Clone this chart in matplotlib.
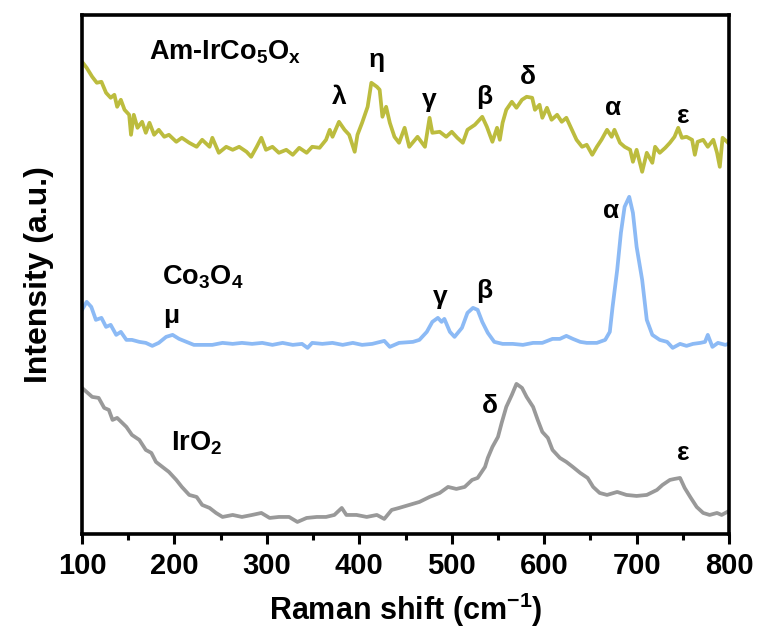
import matplotlib
matplotlib.use("Agg")
import matplotlib.pyplot as plt
from matplotlib.ticker import MultipleLocator

plt.rcParams['font.family'] = ['Liberation Sans', 'DejaVu Sans']
plt.rcParams['font.weight'] = 'bold'
plt.rcParams['mathtext.fontset'] = 'custom'
plt.rcParams['mathtext.rm'] = 'Liberation Sans:bold'
plt.rcParams['mathtext.bf'] = 'Liberation Sans:bold'
plt.rcParams['mathtext.default'] = 'bf'

# Am-IrCo5Ox (top, with offset)
x_am = [100, 105, 111, 116, 121, 126, 131, 135, 138, 142, 146, 151, 153, 156, 160, 165, 169, 173,
        178, 183, 189, 194, 202, 208, 216, 224, 230, 238, 241, 248, 256, 263, 270, 278, 283, 289,
        294, 299, 306, 313, 321, 328, 335, 343, 349, 357, 364, 368, 371, 378, 384, 389, 395, 398,
        403, 409, 413, 419, 422, 425, 429, 433, 438, 443, 449, 454, 463, 471, 476, 479, 487, 494,
        500, 506, 512, 517, 525, 533, 538, 544, 549, 552, 555, 559, 565, 570, 576, 581, 587, 590,
        595, 598, 603, 608, 614, 619, 624, 630, 635, 641, 646, 652, 657, 662, 668, 673, 676, 682,
        687, 693, 696, 700, 706, 711, 717, 720, 725, 731, 736, 741, 745, 749, 754, 760, 763, 766,
        772, 777, 783, 787, 790, 793, 799]
y_am = [472, 466, 457, 451, 452, 441, 436, 439, 427, 434, 424, 419, 399, 419, 406, 412, 401, 411,
        399, 404, 397, 399, 392, 396, 391, 387, 394, 387, 396, 381, 387, 384, 387, 382, 377, 387,
        396, 384, 387, 381, 384, 379, 386, 381, 387, 386, 394, 404, 397, 412, 404, 399, 382, 399,
        411, 427, 451, 447, 444, 417, 427, 411, 397, 391, 406, 387, 397, 387, 416, 401, 402, 397,
        402, 396, 391, 404, 409, 417, 407, 392, 406, 394, 411, 424, 432, 426, 434, 437, 436, 424,
        429, 416, 426, 414, 419, 412, 416, 404, 394, 387, 389, 379, 387, 394, 404, 397, 404, 391,
        387, 384, 372, 384, 362, 381, 371, 387, 381, 386, 391, 397, 406, 396, 397, 394, 379, 392,
        394, 387, 394, 381, 367, 396, 391]

# Co3O4 (middle)
x_co = [100, 105, 110, 115, 121, 126, 131, 137, 142, 148, 154, 162, 169, 176, 183, 191, 198, 205,
        213, 221, 230, 241, 252, 263, 273, 284, 295, 306, 317, 328, 338, 344, 349, 360, 371, 382,
        393, 403, 414, 427, 433, 443, 458, 465, 473, 479, 485, 489, 492, 498, 503, 511, 517, 523,
        528, 533, 539, 546, 555, 566, 577, 588, 598, 609, 617, 624, 631, 639, 646, 657, 666, 671,
        674, 679, 683, 687, 692, 696, 700, 706, 711, 717, 725, 733, 739, 747, 754, 761, 769, 774,
        777, 782, 788, 796, 799]
y_co = [224, 232, 227, 214, 216, 207, 209, 199, 202, 194, 194, 192, 191, 188, 191, 197, 199, 195,
        192, 189, 189, 189, 191, 190, 191, 190, 191, 189, 191, 189, 190, 186, 191, 190, 191, 189,
        191, 189, 190, 193, 187, 191, 192, 194, 202, 212, 216, 212, 215, 202, 197, 206, 221, 226,
        224, 212, 201, 192, 190, 190, 189, 191, 191, 195, 195, 198, 195, 192, 191, 191, 194, 202,
        227, 264, 301, 327, 337, 321, 287, 254, 214, 199, 194, 192, 186, 190, 188, 190, 191, 192,
        199, 187, 191, 189, 190]

# IrO2 (bottom)
x_ir = [100, 111, 118, 124, 129, 133, 138, 148, 154, 162, 169, 175, 180, 187, 194, 202, 208, 216,
        224, 230, 238, 245, 252, 263, 273, 284, 294, 303, 313, 324, 333, 343, 354, 364, 373, 381,
        386, 397, 408, 419, 427, 435, 443, 454, 465, 476, 487, 496, 505, 514, 522, 528, 536, 539,
        544, 550, 554, 559, 565, 570, 576, 581, 588, 593, 598, 604, 609, 617, 624, 631, 639, 647,
        653, 660, 668, 679, 689, 700, 711, 722, 728, 736, 741, 747, 752, 758, 765, 772, 779, 787,
        792, 798]
y_ir = [146, 137, 136, 126, 124, 114, 116, 107, 99, 94, 84, 81, 72, 67, 62, 54, 47, 39,
        37, 29, 26, 21, 17, 19, 17, 19, 21, 16, 17, 17, 12, 16, 17, 17, 19, 26,
        19, 19, 17, 19, 15, 24, 26, 29, 32, 37, 41, 47, 45, 47, 54, 56, 67, 76,
        87, 97, 111, 127, 139, 150, 146, 137, 127, 114, 102, 96, 84, 76, 72, 67, 61, 56,
        47, 41, 39, 42, 39, 38, 39, 44, 49, 54, 55, 56, 46, 37, 27, 21, 19, 21,
        19, 22]

# peak labels: (text, x, y)
peaks_am = [('λ', 378, 437), ('η', 419, 474), ('γ', 476, 434), ('β', 535, 437),
            ('δ', 582, 457), ('α', 675, 426), ('ε', 750, 418)]
peaks_co = [('μ', 196, 218), ('γ', 487, 237), ('β', 535, 243), ('α', 672, 323)]
peaks_ir = [('δ', 541, 128), ('ε', 750, 81)]

fig = plt.figure(figsize=(7.63, 6.41), dpi=100)
ax = fig.add_axes([0.1075, 0.167, 0.848, 0.81])

ax.plot(x_am, y_am, color='#bcbc3e', lw=2.7)
ax.plot(x_co, y_co, color='#8cbaf5', lw=2.7)
ax.plot(x_ir, y_ir, color='#999999', lw=2.7)

for lab, px, py in peaks_am + peaks_co + peaks_ir:
    ax.text(px, py, lab, fontsize=19, fontweight='bold', ha='center', va='center')

ax.text(173, 482, 'Am-IrCo$_5$O$_x$', fontsize=19.5, ha='left', va='center')
ax.text(187, 257, 'Co$_3$O$_4$', fontsize=19.5, ha='left', va='center')
ax.text(196, 91, 'IrO$_2$', fontsize=19.5, ha='left', va='center')

ax.set_xlim(100, 800)
ax.set_ylim(0, 519)
ax.set_yticks([])
ax.xaxis.set_major_locator(MultipleLocator(100))
ax.xaxis.set_minor_locator(MultipleLocator(50))
ax.tick_params(axis='x', which='major', direction='out', length=7, width=2.2, pad=6)
ax.tick_params(axis='x', which='minor', direction='out', length=4, width=2.2)
for sp in ax.spines.values():
    sp.set_linewidth(2.6)

for lbl in ax.get_xticklabels():
    lbl.set_fontsize(21)
    lbl.set_fontweight('bold')

ax.set_xlabel('Raman shift (cm$^{\\mathregular{-1}}$)', fontsize=22, fontweight='bold', labelpad=8)
ax.set_ylabel('Intensity (a.u.)', fontsize=23, fontweight='bold', labelpad=20)

fig.savefig('out.png', dpi=100)
